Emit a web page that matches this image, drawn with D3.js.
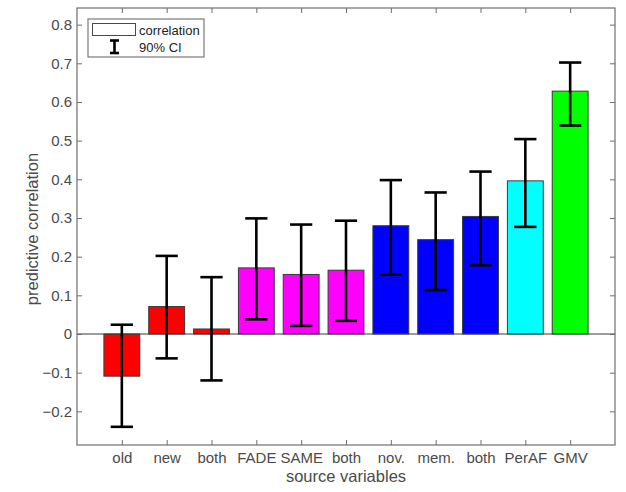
<!DOCTYPE html>
<html>
<head>
<meta charset="utf-8">
<script src="https://cdn.jsdelivr.net/npm/d3@7"></script>
<style>
  body { margin: 0; background: #fff; }
  text { font-family: "Liberation Sans", Arial, sans-serif; }
</style>
</head>
<body>
<svg id="root"></svg>
<script>
// data
const categories = ["old", "new", "both", "FADE", "SAME", "both", "nov.", "mem.", "both", "PerAF", "GMV"];
const groups = ["oldnew", "oldnew", "oldnew", "fade", "fade", "fade", "novmem", "novmem", "novmem", "peraf", "gmv"];
const correlation = [-0.109, 0.071, 0.013, 0.171, 0.154, 0.165, 0.280, 0.244, 0.304, 0.396, 0.628];
const ciLow = [-0.240, -0.063, -0.120, 0.038, 0.021, 0.034, 0.154, 0.114, 0.178, 0.277, 0.539];
const ciHigh = [0.024, 0.202, 0.147, 0.299, 0.283, 0.293, 0.398, 0.366, 0.420, 0.504, 0.702];
const yTicks = [-0.2, -0.1, 0, 0.1, 0.2, 0.3, 0.4, 0.5, 0.6, 0.7, 0.8];

class BarChart {
  width = 626;
  height = 492;
  margin = { top: 8, left: 77, bottom: 47, right: 11 };
  axisColor = "#6e6e6e";
  textColor = "#4a4a4a";

  init() {
    this.svg = d3.select("#root").attr("width", this.width).attr("height", this.height);
    this.w = this.width - this.margin.left - this.margin.right;
    this.h = this.height - this.margin.top - this.margin.bottom;
    this.g = this.svg.append("g")
      .attr("transform", `translate(${this.margin.left},${this.margin.top})`);

    this.rows = categories.map((c, i) => ({
      i, label: c, group: groups[i], r: correlation[i], lo: ciLow[i], hi: ciHigh[i],
    }));

    this.x = d3.scaleLinear().domain([0, categories.length + 1]).range([0, this.w]);
    this.y = d3.scaleLinear().domain([-0.287, 0.843]).range([this.h, 0]);
    this.color = d3.scaleOrdinal()
      .domain(["oldnew", "fade", "novmem", "peraf", "gmv"])
      .range(["#ff0000", "#ff00ff", "#0000ff", "#00ffff", "#00ff00"]);

    this.drawBars();
    this.drawAxes();
    this.drawLegend();
  }

  drawBars = () => {
    const bw = (this.x(1) - this.x(0)) * 0.8;
    const cap = bw * 0.62;

    this.g.selectAll(".bar")
      .data(this.rows)
      .enter()
      .append("rect")
      .attr("class", "bar")
      .attr("x", (d) => this.x(d.i + 1) - bw / 2)
      .attr("width", bw)
      .attr("y", (d) => this.y(Math.max(0, d.r)))
      .attr("height", (d) => Math.abs(this.y(d.r) - this.y(0)))
      .attr("fill", (d) => this.color(d.group))
      .attr("stroke", "#3a3a3a")
      .attr("stroke-width", 1);

    // zero baseline across the whole axes
    this.g.append("line")
      .attr("x1", 0).attr("x2", this.w)
      .attr("y1", this.y(0)).attr("y2", this.y(0))
      .attr("stroke", "#3a3a3a");

    const err = this.g.selectAll(".err")
      .data(this.rows)
      .enter()
      .append("g")
      .attr("class", "err")
      .attr("stroke", "#000")
      .attr("stroke-width", 2.6);
    err.append("line")
      .attr("x1", (d) => this.x(d.i + 1)).attr("x2", (d) => this.x(d.i + 1))
      .attr("y1", (d) => this.y(d.lo)).attr("y2", (d) => this.y(d.hi));
    err.append("line")
      .attr("x1", (d) => this.x(d.i + 1) - cap / 2).attr("x2", (d) => this.x(d.i + 1) + cap / 2)
      .attr("y1", (d) => this.y(d.lo)).attr("y2", (d) => this.y(d.lo));
    err.append("line")
      .attr("x1", (d) => this.x(d.i + 1) - cap / 2).attr("x2", (d) => this.x(d.i + 1) + cap / 2)
      .attr("y1", (d) => this.y(d.hi)).attr("y2", (d) => this.y(d.hi));
  };

  drawAxes = () => {
    const xIdx = d3.range(1, categories.length + 1);
    const style = (sel, size) => {
      sel.select(".domain").remove();
      sel.selectAll(".tick line").attr("stroke", this.axisColor);
      sel.selectAll(".tick text")
        .attr("fill", this.textColor)
        .style("font-size", size + "px")
        .style("font-family", "'Liberation Sans', Arial, sans-serif");
    };

    this.g.append("g")
      .attr("transform", `translate(0,${this.h})`)
      .call(d3.axisBottom(this.x).tickValues(xIdx).tickFormat((d) => categories[d - 1])
        .tickSizeInner(-5).tickSizeOuter(0).tickPadding(7.5))
      .call((s) => style(s, 15));
    this.g.append("g")
      .call(d3.axisTop(this.x).tickValues(xIdx).tickFormat("").tickSizeInner(-5).tickSizeOuter(0))
      .call((s) => style(s, 15));
    this.g.append("g")
      .call(d3.axisLeft(this.y).tickValues(yTicks).tickFormat((d) => (d === 0 ? "0" : d3.format(".1f")(d)))
        .tickSizeInner(-5).tickSizeOuter(0).tickPadding(5))
      .call((s) => style(s, 15));
    this.g.append("g")
      .attr("transform", `translate(${this.w},0)`)
      .call(d3.axisRight(this.y).tickValues(yTicks).tickFormat("").tickSizeInner(-5).tickSizeOuter(0))
      .call((s) => style(s, 15));

    // box
    this.g.append("rect")
      .attr("width", this.w).attr("height", this.h)
      .attr("fill", "none").attr("stroke", this.axisColor).attr("stroke-width", 1.2);

    this.svg.append("text")
      .attr("x", this.margin.left + this.w / 2)
      .attr("y", 482)
      .attr("text-anchor", "middle")
      .attr("fill", this.textColor)
      .style("font-size", "16.5px")
      .text("source variables");

    this.svg.append("text")
      .attr("transform", "translate(38,229) rotate(-90)")
      .attr("text-anchor", "middle")
      .attr("fill", this.textColor)
      .style("font-size", "16.5px")
      .text("predictive correlation");
  };

  drawLegend = () => {
    const lg = this.svg.append("g").attr("transform", "translate(88,19)");
    lg.append("rect")
      .attr("width", 116).attr("height", 38)
      .attr("fill", "#fff").attr("stroke", "#7a7a7a").attr("stroke-width", 1.2);
    lg.append("rect")
      .attr("x", 4.5).attr("y", 4.5).attr("width", 43).attr("height", 12)
      .attr("fill", "#fff").attr("stroke", "#4a4a4a");
    lg.append("text").attr("x", 51).attr("y", 15.5)
      .style("font-size", "13px").attr("fill", "#222").text("correlation");
    lg.append("text").attr("x", 51).attr("y", 32.5)
      .style("font-size", "13px").attr("fill", "#222").text("90% CI");

    const ex = 26.5;
    const e = lg.append("g").attr("stroke", "#000").attr("stroke-width", 2.6);
    e.append("line").attr("x1", ex).attr("x2", ex).attr("y1", 21.5).attr("y2", 34);
    e.append("line").attr("x1", ex - 4.5).attr("x2", ex + 4.5).attr("y1", 21.5).attr("y2", 21.5);
    e.append("line").attr("x1", ex - 4.5).attr("x2", ex + 4.5).attr("y1", 34).attr("y2", 34);
  };
}

new BarChart().init();
</script>
</body>
</html>
